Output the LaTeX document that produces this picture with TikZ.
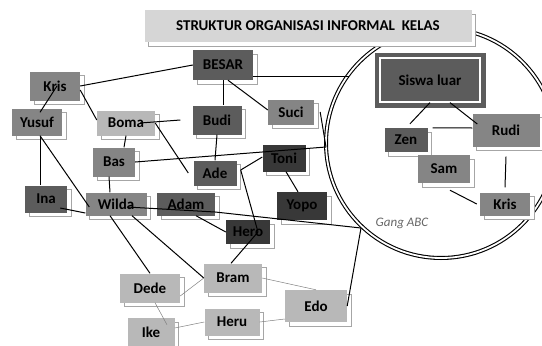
\documentclass[tikz,border=0pt]{standalone}
\usepackage{fontspec}
\setmainfont{Carlito}
\usetikzlibrary{shadows}

\definecolor{titlegray}{gray}{0.84}
\definecolor{lite}{gray}{0.72}
\definecolor{mid}{gray}{0.52}
\definecolor{dark}{gray}{0.36}
\definecolor{deep}{gray}{0.22}

\tikzset{
    member/.style={fill=#1, text=black, inner sep=0pt, font=\bfseries\fontsize{15}{15}\selectfont,
        copy shadow={shadow xshift=4pt, shadow yshift=-4pt, fill=white, draw=gray!70, line width=0.9pt}},
    tie/.style={line width=1pt},
    faint/.style={line width=0.5pt, gray},
}

\begin{document}
\begin{tikzpicture}[x=1pt, y=-1pt]
    \useasboundingbox (0,0) rectangle (542,346);
    \clip (0,0) rectangle (542,346);

    % the gang
    \draw[draw=black, line width=1.1pt, double=white, double distance=1.8pt] (441,143) circle [radius=115pt];
    \coordinate (gt) at (349,76);
    \coordinate (gl) at (326,147);
    \coordinate (gj) at (361,228);

    \node[member=titlegray, minimum width=327pt, minimum height=32pt] (Title) at (308,26) {STRUKTUR ORGANISASI INFORMAL\ \ KELAS};

    \node[member=dark, minimum width=60pt, minimum height=30pt] (BESAR)  at (223,65)  {BESAR};
    \node[member=mid,  minimum width=50pt, minimum height=29pt] (Kris L) at (55,86)   {Kris};
    \node[member=mid,  minimum width=50pt, minimum height=27pt] (Yusuf)  at (37,122)  {Yusuf};
    \node[member=lite, minimum width=58pt, minimum height=25pt] (Boma)   at (126,123) {Boma};
    \node[member=dark, minimum width=49pt, minimum height=29pt] (Budi)   at (217,120) {Budi};
    \node[member=mid,  minimum width=46pt, minimum height=25pt] (Suci)   at (291,112) {Suci};
    \node[member=mid,  minimum width=42pt, minimum height=29pt] (Bas)    at (114,162) {Bas};
    \node[member=dark, minimum width=43pt, minimum height=25pt] (Ade)    at (215,173) {Ade};
    \node[member=deep, minimum width=43pt, minimum height=27pt] (Toni)   at (284,158) {Toni};
    \node[member=dark, minimum width=42pt, minimum height=27pt] (Ina)    at (46,199)  {Ina};
    \node[member=mid,  minimum width=61pt, minimum height=23pt] (Wilda)  at (116,204) {Wilda};
    \node[member=dark, minimum width=58pt, minimum height=23pt] (Adam)   at (186,204) {Adam};
    \node[member=deep, minimum width=50pt, minimum height=28pt] (Yopo)   at (302,206) {Yopo};
    \node[member=deep, minimum width=44pt, minimum height=24pt] (Hero)   at (248,232) {Hero};
    \node[member=lite, minimum width=58pt, minimum height=29pt] (Bram)   at (233,278) {Bram};
    \node[member=lite, minimum width=60pt, minimum height=29pt] (Dede)   at (150,288) {Dede};
    \node[member=lite, minimum width=62pt, minimum height=32pt] (Edo)    at (316,306) {Edo};
    \node[member=lite, minimum width=55pt, minimum height=27pt] (Heru)   at (232,322) {Heru};
    \node[member=lite, minimum width=47pt, minimum height=28pt] (Ike)    at (151,332) {Ike};

    % inside the circle
    \node[member=dark, minimum width=100pt, minimum height=44pt, draw=white, line width=1.2pt,
          preaction={draw=dark, line width=11pt}] (Siswa) at (430,80) {Siswa luar};
    \node[member=dark, minimum width=43pt, minimum height=24pt] (Zen)    at (406,140) {Zen};
    \node[member=mid,  minimum width=67pt, minimum height=33pt] (Rudi)   at (506,130) {Rudi};
    \node[member=mid,  minimum width=52pt, minimum height=28pt] (Sam)    at (444,169) {Sam};
    \node[member=mid,  minimum width=50pt, minimum height=23pt] (Kris R) at (505,204) {Kris};
    \node[font=\itshape\fontsize{13}{13}\selectfont, text=black!60] (gang) at (402,223) {Gang ABC};

    \draw[tie] (Kris L.east) -- (BESAR.west);
    \draw[tie] ([xshift=2pt]Kris L.center) -- ([xshift=3pt, yshift=-4pt]Yusuf.north);
    \draw[tie] ([yshift=-4pt]Kris L.east) -- ([yshift=3pt]Boma.west);
    \draw[tie] ([yshift=-11pt]BESAR.east) -- (gt);
    \draw[tie] (BESAR.south) -- (BESAR.south |- Budi.north);
    \draw[tie] ([xshift=5pt]BESAR.south) -- ([yshift=2pt]Suci.west);
    \draw[tie] ([xshift=-15pt]Boma.east) -- ([xshift=-12pt]Budi.west);
    \draw[tie] (Boma.east) -- ([xshift=-5pt]Ade.west);
    \draw[tie] (Boma.south) -- ([xshift=10pt]Bas.north);
    \draw[tie] (Budi.south) -- (Ade.north);
    \draw[tie] (Bas.east) -- (gl);
    \draw[tie] ([xshift=6pt]Suci.east) -- (gl);
    \draw[tie] ([yshift=1pt]Toni.west) -- ([xshift=4pt, yshift=3pt]Ade.east);
    \draw[tie] ([xshift=2pt]Toni.south) -- ([xshift=-4pt]Yopo.north);
    \draw[tie] ([xshift=4pt, yshift=3pt]Ade.east) -- ([xshift=10pt]Hero.center);
    \draw[tie] ([xshift=3pt]Yusuf.south) -- ([xshift=-6pt]Ina.north);
    \draw[tie] ([xshift=3pt]Yusuf.south) -- ([xshift=4pt, yshift=-3pt]Wilda.west);
    \draw[tie] ([xshift=-7pt, yshift=-9pt]Ina.east) -- ([yshift=-9pt]Wilda.west);
    \draw[tie] ([xshift=-5pt]Bas.south) -- ([xshift=-6pt]Wilda.north);
    \draw[tie] ([xshift=11pt, yshift=-3pt]Wilda.center) -- ([yshift=-8pt]Adam.east) -- (gj);
    \draw[tie] ([xshift=10pt]Adam.south) -- (Hero.west);
    \draw[tie] ([xshift=10pt]Hero.center) -- ([xshift=-2pt]Bram.north);
    \draw[tie] ([xshift=-6pt]Wilda.south) -- (Dede.north);
    \draw[tie] ([xshift=16pt]Wilda.south) -- (Bram.west);
    \draw[tie] (Edo.east) -- (gj);
    \draw[faint] ([yshift=-8pt]Dede.east) -- (Bram.west);
    \draw[faint] ([xshift=5pt]Dede.south) -- ([xshift=16pt, yshift=-7pt]Ike.north);
    \draw[faint] ([yshift=4pt]Ike.east) -- (Heru.west);
    \draw[faint] (Bram.east) -- (Edo.north);
    \draw[faint] (Heru.east) -- ([yshift=-13pt]Edo.west);

    \draw[tie] (Siswa.south) -- ([xshift=4pt, yshift=4pt]Zen.north);
    \draw[tie] ([xshift=20pt]Siswa.south) -- ([xshift=5pt, yshift=6pt]Rudi.west);
    \draw[tie] ([xshift=5pt]Zen.north east) -- ([yshift=2pt]Rudi.west);
    \draw[tie] ([yshift=-10pt]Rudi.south) -- ([yshift=5pt]Kris R.north);
    \draw[tie] ([xshift=6pt, yshift=-7pt]Sam.south) -- ([xshift=-3pt]Kris R.west);
\end{tikzpicture}
\end{document}
